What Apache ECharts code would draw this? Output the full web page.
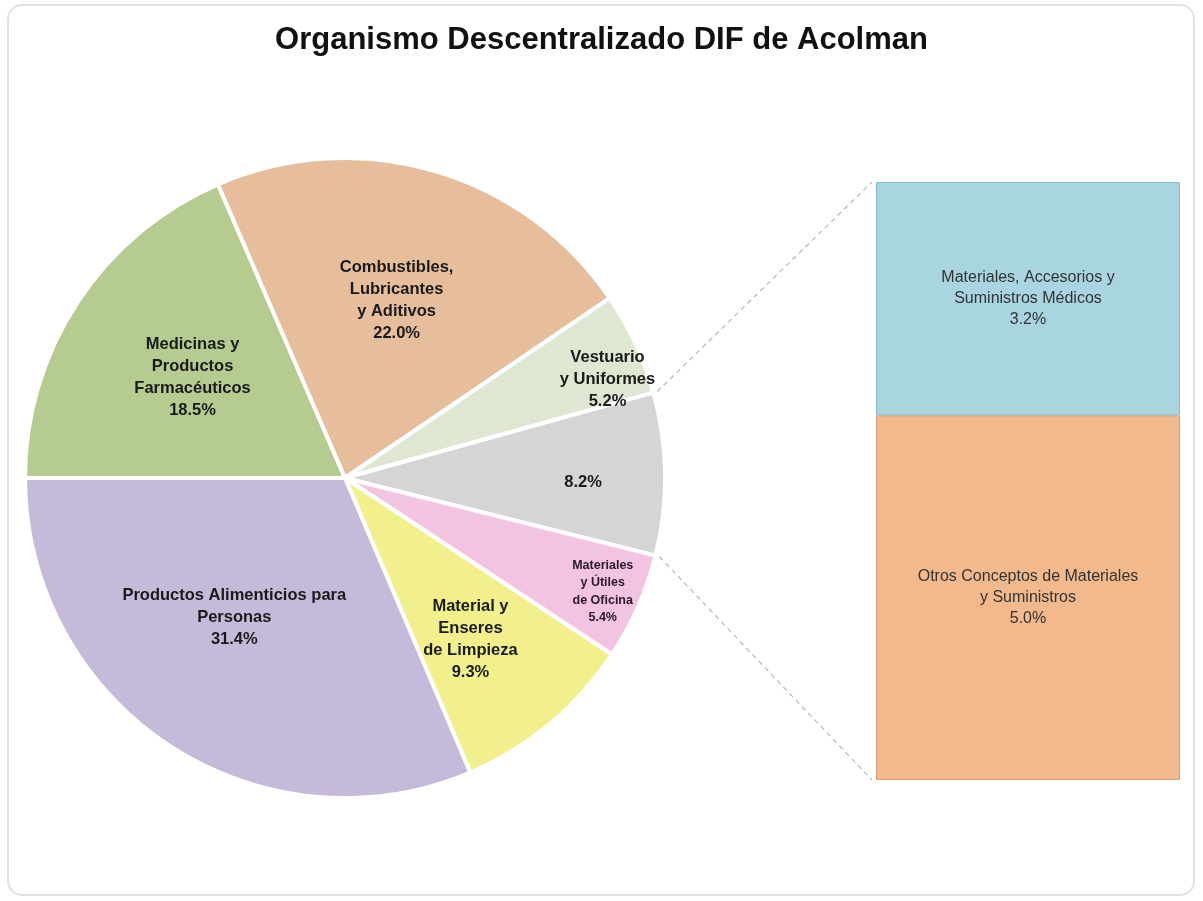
<!DOCTYPE html>
<html>
<head>
<meta charset="utf-8">
<script src="https://cdn.jsdelivr.net/npm/echarts@6/dist/echarts.min.js"></script>
<style>
html,body{margin:0;padding:0;background:#fff;}
#chart{width:1203px;height:901px;}
</style>
</head>
<body>
<div id="chart"></div>
<script>
// ---- Data ----
const titleText = 'Organismo Descentralizado DIF de Acolman';
const pieLabels = [
  'Medicinas y\nProductos\nFarmacéuticos',
  'Combustibles,\nLubricantes\ny Aditivos',
  'Vestuario\ny Uniformes',
  '',
  'Materiales\ny Útiles\nde Oficina',
  'Material y\nEnseres\nde Limpieza',
  'Productos Alimenticios para\nPersonas'
];
const pieValues = [18.5, 22.0, 5.2, 8.2, 5.4, 9.3, 31.4];
// bar of pie, listed top to bottom
const barLabels = ['Materiales, Accesorios y\nSuministros Médicos', 'Otros Conceptos de Materiales\ny Suministros'];
const barValues = [3.2, 5.0];

// ---- Layout / style ----
const pieColors = ['#B5CB8F', '#E6BE9C', '#DEE7D2', '#D5D5D5', '#F3C4E1', '#F2F08C', '#C6BADB'];
const barColors = ['#A9D5E1', '#F2B98D'];
const barBorders = ['#86BACB', '#D9A173'];
const CX = 345, CY = 478, R = 320;
const START = 180;
// label placement: radial fraction of radius, angular shift (deg)
const labelRadial = [0.57, 0.578, 0.876, 0.744, 0.88, 0.64, 0.556];
const labelShift = [0, 0, -4.3, -1.9, 0, -2, -5];
const labelSizes = [16.5, 16.5, 16.5, 16.5, 12.5, 16.5, 16.5];
const labelLH = [22, 22, 22, 22, 17.5, 22, 22];
const GRID = {left: 876, top: 182, width: 304, height: 598};

const total = pieValues.reduce((a, b) => a + b, 0);
const midAngles = [];
let acc = 0;
pieValues.forEach(v => {
  const a0 = START - acc / total * 360;
  acc += v;
  const a1 = START - acc / total * 360;
  midAngles.push((a0 + a1) / 2);
});
const otherIdx = 3;
let before = 0;
for (let i = 0; i < otherIdx; i++) before += pieValues[i];
const otherStart = START - before / total * 360;
const otherEnd = otherStart - pieValues[otherIdx] / total * 360;
const barTotal = barValues.reduce((a, b) => a + b, 0);

const chart = echarts.init(document.getElementById('chart'), null, {renderer: 'canvas'});
const fontFam = '"Liberation Sans", Arial, sans-serif';

// stack draws first series at the bottom, so add bars bottom-up
const barOrder = barValues.map((_, i) => i).reverse();

const option = {
  backgroundColor: '#ffffff',
  animation: false,
  title: {
    text: titleText,
    left: 'center',
    top: 20,
    textStyle: {fontFamily: fontFam, fontWeight: 'bold', fontSize: 31, color: '#111'}
  },
  grid: {left: GRID.left, top: GRID.top, width: GRID.width, height: GRID.height},
  xAxis: {type: 'category', data: ['Otros'], show: false},
  yAxis: {type: 'value', min: 0, max: barTotal, show: false},
  series: [
    {
      type: 'pie',
      center: [CX, CY],
      radius: [0, R],
      startAngle: START,
      clockwise: true,
      avoidLabelOverlap: false,
      itemStyle: {borderColor: '#ffffff', borderWidth: 4},
      label: {
        show: true,
        position: 'inside',
        fontFamily: fontFam,
        fontWeight: 'bold',
        color: '#1a1a1a',
        formatter: p => {
          const t = pieLabels[p.dataIndex];
          return (t ? t + '\n' : '') + p.value.toFixed(1) + '%';
        }
      },
      labelLine: {show: false},
      labelLayout: p => {
        const i = p.dataIndex;
        const a = (midAngles[i] + labelShift[i]) * Math.PI / 180;
        return {
          x: CX + labelRadial[i] * R * Math.cos(a),
          y: CY - labelRadial[i] * R * Math.sin(a),
          align: 'center',
          verticalAlign: 'middle'
        };
      },
      data: pieValues.map((v, i) => ({
        value: v,
        name: pieLabels[i] || 'Otros',
        itemStyle: {color: pieColors[i]},
        label: {fontSize: labelSizes[i], lineHeight: labelLH[i], color: i === 4 ? '#2a1a2a' : '#1a1a1a'}
      }))
    },
    ...barOrder.map(i => ({
      type: 'bar',
      stack: 'otros',
      barWidth: '100%',
      data: [barValues[i]],
      itemStyle: {color: barColors[i], borderColor: barBorders[i], borderWidth: 1},
      label: {
        show: true,
        position: 'inside',
        fontFamily: fontFam,
        fontSize: 16,
        lineHeight: 21,
        color: '#333',
        formatter: p => barLabels[i] + '\n' + p.value.toFixed(1) + '%'
      }
    }))
  ]
};
chart.setOption(option);

// connector lines from the "other" slice edge to the bar corners
const barTop = chart.convertToPixel({yAxisIndex: 0}, barTotal);
const barBottom = chart.convertToPixel({yAxisIndex: 0}, 0);
const pt = (ang, r) => [CX + r * Math.cos(ang * Math.PI / 180), CY - r * Math.sin(ang * Math.PI / 180)];
const p1 = pt(otherStart, R + 4), p2 = pt(otherEnd, R + 4);
chart.setOption({
  graphic: [
    {type: 'rect', z: -1, shape: {x: 8, y: 5, width: 1186, height: 890, r: 14},
     style: {fill: 'none', stroke: '#e2e2de', lineWidth: 2}},
    {type: 'line', shape: {x1: p1[0], y1: p1[1], x2: GRID.left - 4, y2: barTop},
     style: {stroke: '#b8b8b8', lineWidth: 1.2, lineDash: [5, 4]}},
    {type: 'line', shape: {x1: p2[0], y1: p2[1], x2: GRID.left - 4, y2: barBottom},
     style: {stroke: '#b8b8b8', lineWidth: 1.2, lineDash: [5, 4]}}
  ]
});
</script>
</body>
</html>
